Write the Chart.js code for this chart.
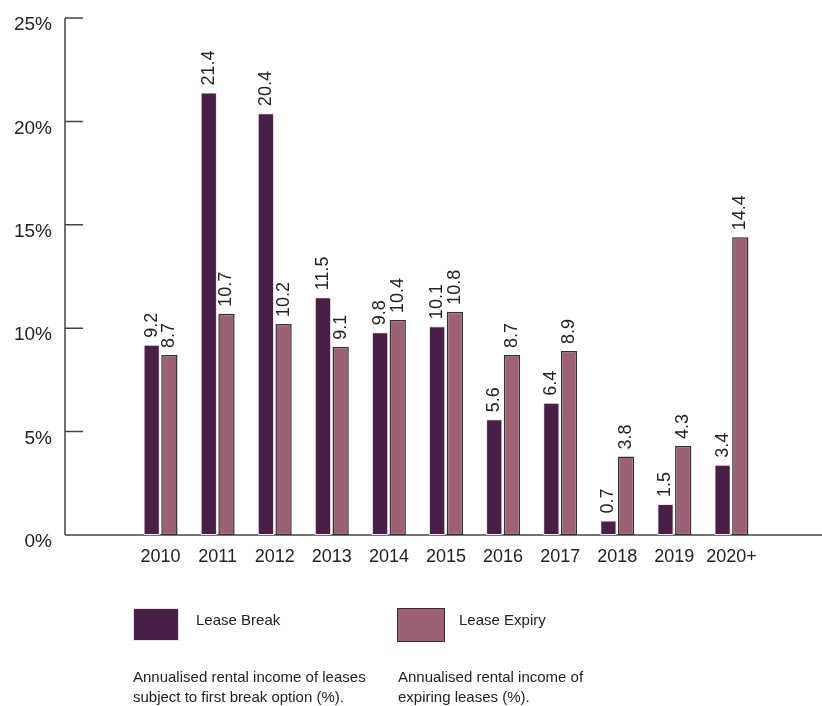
<!DOCTYPE html>
<html>
<head>
<meta charset="utf-8">
<script src="https://cdn.jsdelivr.net/npm/chart.js@4/dist/chart.umd.min.js"></script>
<style>
  html, body { margin:0; padding:0; background:#fff; }
  #wrap { position:relative; width:822px; height:706px; font-family:"Liberation Sans", Arial, sans-serif; color:#222; }
  #c { position:absolute; left:0; top:0; }
  .box { position:absolute; box-sizing:border-box; }
  .lbl { position:absolute; font-size:15px; line-height:20px; white-space:nowrap; }
</style>
</head>
<body>
<div id="wrap">
  <canvas id="c" width="822" height="706"></canvas>
  <div class="box" id="box1" style="left:133px;top:608px;width:46px;height:33px;border:1px solid #e8e0e8;"></div>
  <div class="lbl" id="leg1" style="left:196px;top:610px;"></div>
  <div class="box" id="box2" style="left:397px;top:608px;width:48px;height:34px;border:1.5px solid #333;"></div>
  <div class="lbl" id="leg2" style="left:459px;top:610px;"></div>
  <div class="lbl" id="desc1" style="left:133px;top:667px;"></div>
  <div class="lbl" id="desc2" style="left:398px;top:667px;"></div>
</div>
<script>
const categories = ['2010','2011','2012','2013','2014','2015','2016','2017','2018','2019','2020+'];
const leaseBreak = [9.2, 21.4, 20.4, 11.5, 9.8, 10.1, 5.6, 6.4, 0.7, 1.5, 3.4];
const leaseExpiry = [8.7, 10.7, 10.2, 9.1, 10.4, 10.8, 8.7, 8.9, 3.8, 4.3, 14.4];
const seriesNames = ['Lease Break', 'Lease Expiry'];
const seriesNotes = ['Annualised rental income of leases<br>subject to first break option (%).', 'Annualised rental income of<br>expiring leases (%).'];
const yTicks = [0, 5, 10, 15, 20, 25];
const colors = ['#4a1f46', '#9c6077'];

document.getElementById('leg1').textContent = seriesNames[0];
document.getElementById('leg2').textContent = seriesNames[1];
document.getElementById('desc1').innerHTML = seriesNotes[0];
document.getElementById('desc2').innerHTML = seriesNotes[1];
document.getElementById('box1').style.background = colors[0];
document.getElementById('box2').style.background = colors[1];

const FONT = '"Liberation Sans", Arial, sans-serif';
const AXIS_X = 65, AXIS_RIGHT = 822;

const axesPlugin = {
  id: 'axesPlugin',
  beforeDatasetsDraw(chart) {
    const ctx = chart.ctx, y = chart.scales.y;
    const y0 = y.getPixelForValue(0), yTop = y.getPixelForValue(25);
    ctx.save();
    ctx.strokeStyle = '#444';
    ctx.lineWidth = 1.5;
    ctx.beginPath();
    ctx.moveTo(AXIS_X, yTop); ctx.lineTo(AXIS_X, y0);
    ctx.moveTo(AXIS_X, y0); ctx.lineTo(AXIS_RIGHT, y0);
    yTicks.forEach(v => {
      const py = y.getPixelForValue(v);
      ctx.moveTo(AXIS_X, py); ctx.lineTo(AXIS_X + 18, py);
    });
    ctx.stroke();
    ctx.restore();
  }
};

const valueLabels = {
  id: 'valueLabels',
  afterDatasetsDraw(chart) {
    const ctx = chart.ctx;
    ctx.save();
    ctx.font = '18px ' + FONT;
    ctx.fillStyle = '#222';
    ctx.textAlign = 'left';
    ctx.textBaseline = 'middle';
    chart.data.datasets.forEach((ds, i) => {
      chart.getDatasetMeta(i).data.forEach((bar, j) => {
        ctx.save();
        ctx.translate(bar.x, bar.y - 7);
        ctx.rotate(-Math.PI / 2);
        ctx.fillText(ds.data[j].toFixed(1), 0, 0);
        ctx.restore();
      });
    });
    ctx.restore();
  }
};

new Chart(document.getElementById('c'), {
  type: 'bar',
  data: {
    labels: categories,
    datasets: [
      { label: seriesNames[0], data: leaseBreak, backgroundColor: colors[0], borderColor: '#ece4ea', borderWidth: 1, borderSkipped: false },
      { label: seriesNames[1], data: leaseExpiry, backgroundColor: colors[1], borderColor: '#333', borderWidth: 1.5, borderSkipped: false }
    ]
  },
  options: {
    responsive: false,
    animation: false,
    categoryPercentage: 0.62,
    barPercentage: 0.92,
    layout: { padding: { left: 0, right: 62, top: 18, bottom: 131 } },
    plugins: { legend: { display: false }, tooltip: { enabled: false } },
    scales: {
      x: {
        grid: { display: false, drawTicks: false },
        border: { display: false },
        ticks: { color: '#222', font: { size: 18, family: FONT }, padding: 11, maxRotation: 0, autoSkip: false },
        afterFit(s) { s.height = 40; s.paddingLeft = 0; s.paddingRight = 0; }
      },
      y: {
        min: 0, max: 25,
        afterBuildTicks(s) { s.ticks = yTicks.map(v => ({ value: v })); },
        grid: { display: false, drawTicks: false },
        border: { display: false },
        ticks: { color: '#222', font: { size: 19, family: FONT }, padding: 80, labelOffset: 7, callback: v => v + '%' },
        afterFit(s) { s.width = 132; s.paddingTop = 0; s.paddingBottom = 0; }
      }
    }
  },
  plugins: [axesPlugin, valueLabels]
});
</script>
</body>
</html>
